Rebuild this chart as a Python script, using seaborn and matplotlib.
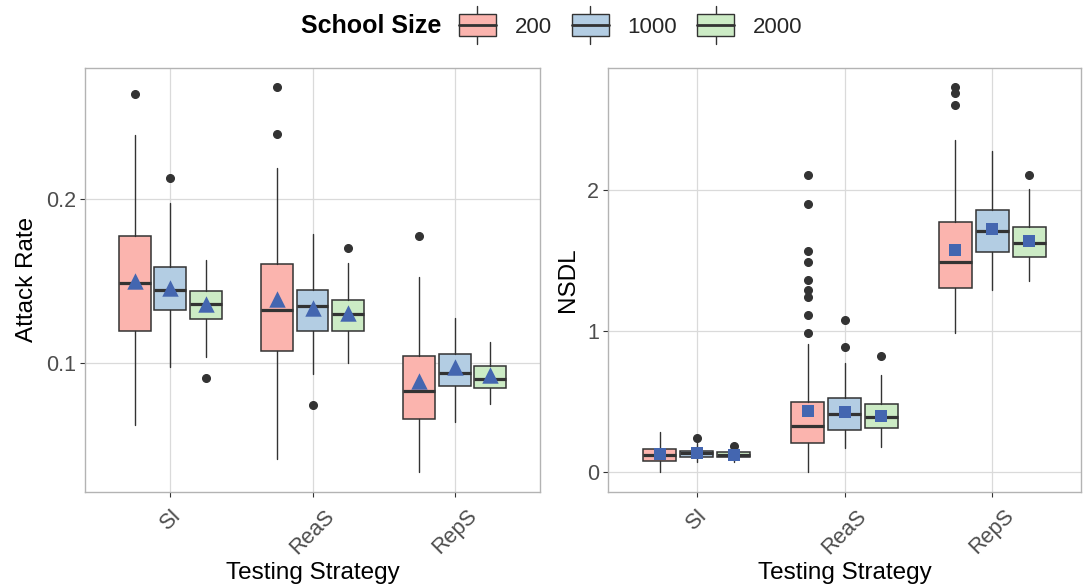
import numpy as np
import pandas as pd
import seaborn as sns
import matplotlib.pyplot as plt
from matplotlib.legend_handler import HandlerBase
from matplotlib.patches import Rectangle, Patch
from matplotlib.lines import Line2D

# categories
strategies = ["SI", "ReaS", "RepS"]
sizes = ["200", "1000", "2000"]
size_colors = ["#FBB4AE", "#B3CDE3", "#CCEBC5"]

# Attack rate: rows = strategy, columns = school size (200, 1000, 2000)
ar_whislo = [[0.0624, 0.098, 0.104], [0.0416, 0.0933, 0.100], [0.0335, 0.0644, 0.0752]]
ar_q1 = [[0.1199, 0.1325, 0.1268], [0.1075, 0.1197, 0.1197], [0.0662, 0.0862, 0.0847]]
ar_med = [[0.1488, 0.1447, 0.1360], [0.1325, 0.1349, 0.1299], [0.0831, 0.0939, 0.0906]]
ar_q3 = [[0.1778, 0.1587, 0.1441], [0.1604, 0.1449, 0.1386], [0.1047, 0.1059, 0.0984]]
ar_whishi = [[0.2392, 0.1976, 0.163], [0.2189, 0.1788, 0.161], [0.1528, 0.1278, 0.1132]]
ar_mean = [[0.1500, 0.1459, 0.1362], [0.1392, 0.1337, 0.1306], [0.0892, 0.0975, 0.0927]]
ar_fliers = [[[0.2646], [0.2128], [0.0912]],
             [[0.2398, 0.2687], [0.0744], [0.1703]],
             [[0.1778], [], []]]

# NSDL
ns_whislo = [[0.0, 0.073, 0.073], [0.0, 0.172, 0.179], [0.988, 1.294, 1.355]]
ns_q1 = [[0.082, 0.106, 0.108], [0.205, 0.301, 0.313], [1.308, 1.560, 1.525]]
ns_med = [[0.125, 0.134, 0.125], [0.329, 0.414, 0.391], [1.487, 1.711, 1.626]]
ns_q3 = [[0.167, 0.153, 0.141], [0.496, 0.527, 0.485], [1.774, 1.859, 1.736]]
ns_whishi = [[0.289, 0.207, 0.160], [0.906, 0.776, 0.689], [2.353, 2.278, 2.007]]
ns_mean = [[0.132, 0.136, 0.120], [0.438, 0.426, 0.402], [1.572, 1.720, 1.635]]
ns_fliers = [[[], [0.242], [0.184]],
             [[0.988, 1.113, 1.238, 1.289, 1.362, 1.487, 1.569, 1.899, 2.106], [0.885, 1.082], [0.824]],
             [[2.602, 2.682, 2.729], [], [2.106]]]

edge = "#333333"
mean_color = "#4466B0"
dodge = [-0.25, 0.0, 0.25]

sns.set_theme(style="whitegrid")
plt.rcParams["font.family"] = ["Liberation Sans", "DejaVu Sans"]


def draw_panel(ax, lo, q1, med, q3, hi, mean, fliers, marker, msize, yticks, ylabel):
    rows = []
    for j, size in enumerate(sizes):
        stats, pos = [], []
        for i, strat in enumerate(strategies):
            stats.append(dict(whislo=lo[i][j], q1=q1[i][j], med=med[i][j], q3=q3[i][j],
                              whishi=hi[i][j], fliers=fliers[i][j]))
            pos.append(i + dodge[j])
            rows.append(dict(pos=i + dodge[j], mean=mean[i][j]))
        ax.bxp(stats, positions=pos, widths=0.225, patch_artist=True, showcaps=False,
               manage_ticks=False,
               boxprops=dict(facecolor=size_colors[j], edgecolor=edge, linewidth=1.1),
               medianprops=dict(color=edge, linewidth=2.3),
               whiskerprops=dict(color=edge, linewidth=1.0),
               flierprops=dict(marker="o", markerfacecolor=edge, markeredgecolor=edge, markersize=5.5))
    means = pd.DataFrame(rows)
    sns.scatterplot(data=means, x="pos", y="mean", marker=marker, s=msize, color=mean_color,
                    linewidth=0, ax=ax, zorder=5, legend=False)

    # ggplot-like 5% expansion
    allv = [v for r in lo for v in r] + [v for r in hi for v in r] + \
           [v for r in fliers for f in r for v in f]
    vmin, vmax = min(allv), max(allv)
    pad = 0.05 * (vmax - vmin)
    ax.set_ylim(vmin - pad, vmax + pad)
    ax.set_xlim(-0.6, 2.6)
    ax.set_xticks(range(len(strategies)))
    ax.set_xticklabels(strategies, rotation=45, ha="center", va="top")
    ax.set_yticks(yticks)
    ax.set_yticklabels([f"{t:g}" for t in yticks])
    ax.set_xlabel("Testing Strategy", fontsize=17.5, color="black", labelpad=2.5)
    ax.set_ylabel(ylabel, fontsize=17.5, color="black", labelpad=6)
    ax.grid(True, color="#DADADA", linewidth=0.9)
    ax.set_axisbelow(True)
    for s in ax.spines.values():
        s.set_visible(True)
        s.set_color("#B3B3B3")
        s.set_linewidth(1.0)
    ax.tick_params(axis="both", which="major", length=3.5, width=0.8, color=edge,
                   labelsize=15.5, labelcolor="#4D4D4D", pad=3, bottom=True, left=True)
    ax.tick_params(axis="x", pad=6.5)


class BoxKey(HandlerBase):
    def create_artists(self, legend, orig_handle, xdescent, ydescent, width, height, fontsize, trans):
        x0, y0 = -xdescent, -ydescent
        face = orig_handle.get_facecolor()
        ext = 6
        rect = Rectangle((x0, y0), width, height, facecolor=face, edgecolor=edge, lw=1.0, transform=trans)
        medl = Line2D([x0, x0 + width], [y0 + height / 2] * 2, color=edge, lw=2.0, transform=trans)
        w1 = Line2D([x0 + width / 2] * 2, [y0 + height, y0 + height + ext], color=edge, lw=1.0, transform=trans)
        w2 = Line2D([x0 + width / 2] * 2, [y0 - ext, y0], color=edge, lw=1.0, transform=trans)
        return [w1, w2, rect, medl]


fig = plt.figure(figsize=(10.9, 5.87), dpi=100)
ax1 = fig.add_axes([85 / 1090, 1 - 491.7 / 587, 455 / 1090, 424.2 / 587])
ax2 = fig.add_axes([608 / 1090, 1 - 491.7 / 587, 473 / 1090, 424.2 / 587])

draw_panel(ax1, ar_whislo, ar_q1, ar_med, ar_q3, ar_whishi, ar_mean, ar_fliers,
           "^", 140, [0.1, 0.2], "Attack Rate")
draw_panel(ax2, ns_whislo, ns_q1, ns_med, ns_q3, ns_whishi, ns_mean, ns_fliers,
           "s", 78, [0, 1, 2], "NSDL")

handles = [Patch(facecolor=c, edgecolor=edge) for c in size_colors]
fig.text(441 / 1090, 1 - 26 / 587, "School Size", ha="right", va="center",
         fontsize=18, fontweight="bold", color="black")
fig.legend(handles, sizes, loc="center left", bbox_to_anchor=(459 / 1090, 1 - 26 / 587),
           ncol=3, frameon=False, fontsize=16, handler_map={Patch: BoxKey()},
           handlelength=1.66, handleheight=1.08, handletextpad=0.85, columnspacing=0.9,
           borderpad=0, borderaxespad=0)

fig.savefig("out.png", dpi=100)
